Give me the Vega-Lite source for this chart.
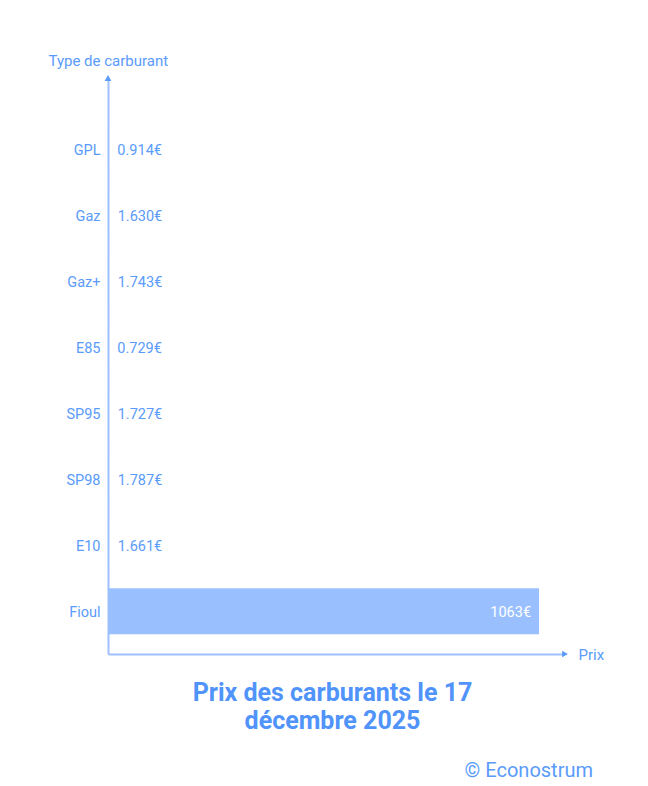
{
  "$schema": "https://vega.github.io/schema/vega-lite/v6.json",
  "width": 457,
  "height": 576,
  "autosize": {"type": "none"},
  "padding": {"left": 108, "top": 78, "right": 83, "bottom": 132},
  "background": "white",
  "config": {"font": "Roboto", "view": {"stroke": null}},
  "title": {
    "text": ["Prix des carburants le 17", "décembre 2025"],
    "orient": "bottom",
    "anchor": "middle",
    "fontSize": 25,
    "fontWeight": "bold",
    "color": "#4f93fb",
    "lineHeight": 28,
    "dx": -4,
    "offset": -100
  },
  "data": {
    "values": [
      {"type": "GPL", "prix": 0.914, "label": "0.914€"},
      {"type": "Gaz", "prix": 1.63, "label": "1.630€"},
      {"type": "Gaz+", "prix": 1.743, "label": "1.743€"},
      {"type": "E85", "prix": 0.729, "label": "0.729€"},
      {"type": "SP95", "prix": 1.727, "label": "1.727€"},
      {"type": "SP98", "prix": 1.787, "label": "1.787€"},
      {"type": "E10", "prix": 1.661, "label": "1.661€"},
      {"type": "Fioul", "prix": 1063, "label": "1063€"}
    ]
  },
  "layer": [
    {
      "encoding": {
        "y": {
          "field": "type",
          "type": "nominal",
          "sort": null,
          "scale": {"paddingInner": 0.303, "paddingOuter": 0.515, "align": 0.71},
          "axis": {
            "title": "Type de carburant",
            "ticks": false,
            "grid": false,
            "labelPadding": 8,
            "labelFontSize": 14.5,
            "labelOffset": 2,
            "labelColor": "#5a9bfb",
            "domainColor": "#9ec0ff",
            "domainWidth": 2,
            "titleAngle": 0,
            "titleAlign": "left",
            "titleBaseline": "middle",
            "titleX": -60,
            "titleY": -18,
            "titleFontWeight": "normal",
            "titleFontSize": 15,
            "titleColor": "#5a9bfb"
          }
        },
        "x": {
          "field": "prix",
          "type": "quantitative",
          "scale": {"domain": [0, 1127], "nice": false},
          "axis": {
            "title": "Prix",
            "labels": false,
            "ticks": false,
            "grid": false,
            "domainColor": "#9ec0ff",
            "domainWidth": 2,
            "titleX": 470,
            "titleY": 0,
            "titleAlign": "left",
            "titleBaseline": "middle",
            "titleFontWeight": "normal",
            "titleFontSize": 15,
            "titleColor": "#5a9bfb"
          }
        }
      },
      "layer": [
        {"mark": {"type": "bar", "color": "#99bfff"}},
        {
          "transform": [{"filter": "datum.prix < 100"}],
          "mark": {"type": "text", "align": "left", "baseline": "middle", "dx": 9, "dy": 2, "fontSize": 14.5, "color": "#5a9bfb"},
          "encoding": {"text": {"field": "label"}}
        },
        {
          "transform": [{"filter": "datum.prix >= 100"}],
          "mark": {"type": "text", "align": "right", "baseline": "middle", "dx": -8, "dy": 2, "fontSize": 14.5, "color": "white"},
          "encoding": {"text": {"field": "label"}}
        }
      ]
    },
    {
      "data": {"values": [{"pos": 1}]},
      "mark": {"type": "point", "shape": "triangle-up", "filled": true, "size": 45, "color": "#5a9bfb", "opacity": 1},
      "encoding": {
        "x": {"datum": 0, "type": "quantitative"},
        "y": {"field": "pos", "type": "quantitative", "scale": {"domain": [0, 1]}, "axis": null}
      }
    },
    {
      "data": {"values": [{"pos": 1127}]},
      "mark": {"type": "point", "shape": "triangle-right", "filled": true, "size": 45, "color": "#5a9bfb", "opacity": 1},
      "encoding": {
        "x": {"field": "pos", "type": "quantitative"},
        "y": {"datum": 0, "type": "quantitative", "scale": {"domain": [0, 1]}, "axis": null}
      }
    },
    {
      "data": {"values": [{"credit": "© Econostrum", "x": 1127, "y": -0.203}]},
      "mark": {"type": "text", "align": "right", "baseline": "middle", "dx": 28, "fontSize": 20, "color": "#5a9bfb"},
      "encoding": {
        "text": {"field": "credit"},
        "x": {"field": "x", "type": "quantitative"},
        "y": {"field": "y", "type": "quantitative", "scale": {"domain": [0, 1]}, "axis": null}
      }
    }
  ],
  "resolve": {"scale": {"y": "independent"}}
}
